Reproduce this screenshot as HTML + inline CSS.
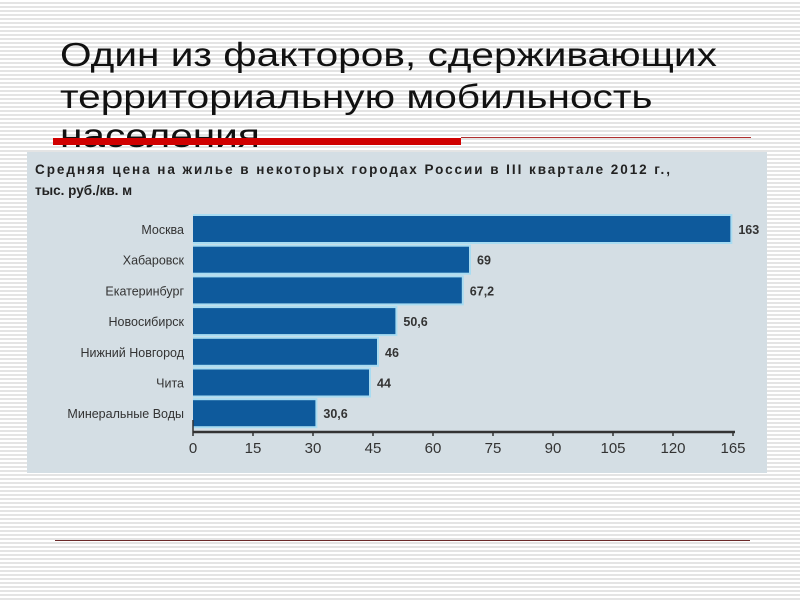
<!DOCTYPE html>
<html><head><meta charset="utf-8"><style>
body{margin:0;width:800px;height:600px;overflow:hidden;background:#fff;background-image:repeating-linear-gradient(to bottom,#fff 0,#fff 2px,#e4e4e4 2px,#e4e4e4 4px);font-family:"Liberation Sans","DejaVu Sans",sans-serif;position:relative}
.t{position:absolute;left:60px;font-size:33px;color:#111;line-height:36px;white-space:nowrap;transform:scaleX(1.23);transform-origin:0 0}
</style></head><body>
<div class="t" style="top:37px">Один из факторов, сдерживающих</div>
<div class="t" style="top:79px">территориальную мобильность</div>
<div class="t" style="top:118px">населения</div>
<div style="position:absolute;left:53px;top:138px;width:408px;height:7px;background:#d00000"></div>
<div style="position:absolute;left:461px;top:137px;width:290px;height:1px;background:#b03030"></div>
<div style="position:absolute;left:55px;top:540px;width:695px;height:1px;background:#6b2a2a"></div>
<svg style="position:absolute;left:0;top:0" width="800" height="600">
<rect x="27" y="152" width="740" height="321" fill="#d4dee4"/>
<text x="35" y="174" font-size="13.5" font-weight="bold" fill="#222" textLength="635">Средняя цена на жилье в некоторых городах России в III квартале 2012 г.,</text>
<text x="35" y="195" font-size="13.5" font-weight="bold" fill="#222">тыс. руб./кв. м</text>
<g id="bars"></g>
<g id="axis"></g>
</svg>
<script>
const cities=["Москва","Хабаровск","Екатеринбург","Новосибирск","Нижний Новгород","Чита","Минеральные Воды"];
const values=[163,69,67.2,50.6,46,44,30.6];
const valueLabels=["163","69","67,2","50,6","46","44","30,6"];
const tickLabels=["0","15","30","45","60","75","90","105","120","165"];
const tickValues=[0,15,30,45,60,75,90,105,120,165];
const NS="http://www.w3.org/2000/svg";
const x0=193,step=60,rowY0=229,rowStep=30.7,bh=26;
function xs(v){for(let i=1;i<tickValues.length;i++){if(v<=tickValues[i]){const a=tickValues[i-1],b=tickValues[i];return x0+step*(i-1)+step*(v-a)/(b-a);}}return x0+step*(tickValues.length-1);}
function mk(t,a,p){const e=document.createElementNS(NS,t);for(const k in a)e.setAttribute(k,a[k]);p.appendChild(e);return e;}
const gb=document.getElementById('bars'),ga=document.getElementById('axis');
cities.forEach((c,i)=>{const cy=rowY0+i*rowStep;const w=xs(values[i])-x0;
const s=mk('rect',{x:x0,y:cy-bh/2-2,width:w+2,height:bh+4,fill:'#a8dcf2'},gb);


const r=mk('rect',{x:x0,y:cy-bh/2,width:w,height:bh,fill:'#0e5a9c'},gb);


const l=mk('text',{x:184,y:cy+5,'text-anchor':'end','font-size':'12.5',fill:'#333'},gb);l.textContent=c;


const v=mk('text',{x:x0+w+8,y:cy+5,'font-size':'12.5','font-weight':'bold',fill:'#333'},gb);v.textContent=valueLabels[i];


});
const ax=mk('line',{x1:x0,y1:432,x2:x0+step*(tickValues.length-1)+2,y2:432,stroke:'#333','stroke-width':2.5},ga);


mk('line',{x1:x0,y1:420,x2:x0,y2:432,stroke:'#333','stroke-width':1.5},ga);
tickValues.forEach((tv,i)=>{const x=xs(tv);
mk('line',{x1:x,y1:432,x2:x,y2:436,stroke:'#333','stroke-width':1.5},ga);
const t=mk('text',{x:x,y:453,'text-anchor':'middle','font-size':'15',fill:'#333'},ga);t.textContent=tickLabels[i];


});
</script>
</body></html>
